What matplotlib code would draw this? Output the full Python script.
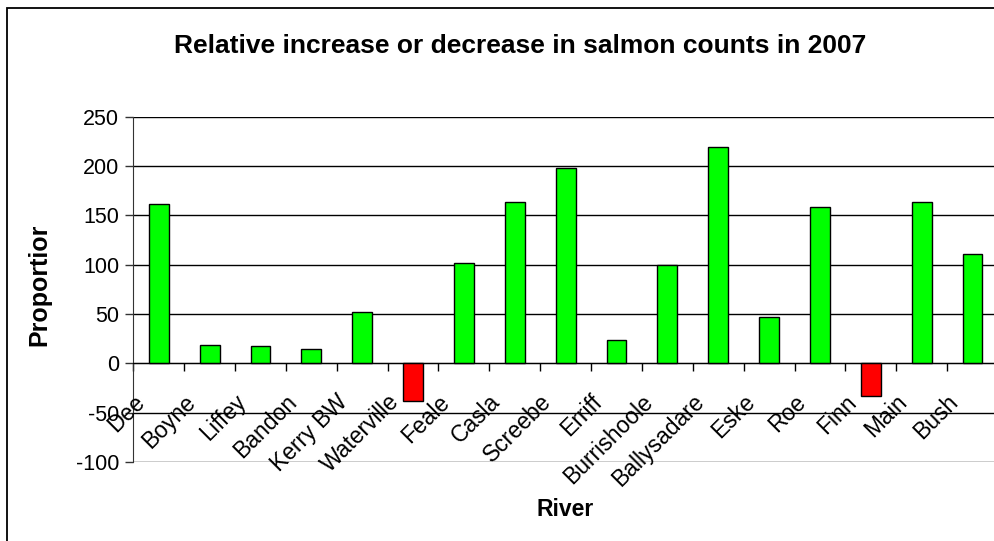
import matplotlib
matplotlib.use("Agg")
import matplotlib.pyplot as plt
import matplotlib.transforms as mtransforms
from matplotlib.patches import Rectangle
import numpy as np

plt.rcParams['font.family'] = ['Liberation Sans', 'DejaVu Sans']

rivers = ["Dee", "Boyne", "Liffey", "Bandon", "Kerry BW", "Waterville", "Feale",
          "Casla", "Screebe", "Erriff", "Burrishoole", "Ballysadare", "Eske",
          "Roe", "Finn", "Main", "Bush"]
values = [162, 19, 18, 14.5, 52, -38, 101.5, 163.5, 198.5, 24, 99.5, 219,
          47, 158.5, -33, 163.5, 111]
yticks = [-100, -50, 0, 50, 100, 150, 200, 250]

title = "Relative increase or decrease in salmon counts in 2007"
ylabel = "Proportior"
xlabel = "River"

W, H = 995, 541
fig = plt.figure(figsize=(W / 100, H / 100), dpi=100)

# outer chart frame (cut off at right / bottom like the reference)
fig.patches.append(Rectangle((7.5 / W, -0.05), 1.2, 1 - 8 / H + 0.05,
                             transform=fig.transFigure, fill=False,
                             edgecolor='black', linewidth=1.3))

left, right = 133.3, 998.0
top, bottom = 116.7, 462.0
ax = fig.add_axes([left / W, 1 - bottom / H, (right - left) / W, (bottom - top) / H])

n = len(rivers)
x = np.arange(n)
colors = ['#00FF00' if v >= 0 else '#FF0000' for v in values]
ax.bar(x, values, width=0.39, color=colors, edgecolor='black', linewidth=1.0, zorder=3)

ax.set_xlim(-0.5, n - 0.5)
ax.set_ylim(-100, 250)
ax.set_yticks(yticks)
ax.set_yticklabels([str(t) for t in yticks], fontsize=15.5)
ax.yaxis.grid(True, color='black', linewidth=1.0, zorder=0)
ax.set_axisbelow(True)

for s in ['top', 'right']:
    ax.spines[s].set_visible(False)
ax.spines['left'].set_color('#333333')
ax.spines['bottom'].set_position(('data', 0))
ax.spines['bottom'].set_color('black')
ax.spines['bottom'].set_zorder(4)

# ticks between categories
ax.set_xticks(np.arange(n + 1) - 0.5)
ax.set_xticklabels([])
ax.tick_params(axis='x', which='major', direction='out', length=6, width=1, color='black')
ax.tick_params(axis='y', which='major', direction='out', length=5.8, width=1,
               color='#333333', pad=4.3)

# rotated category labels, anchored at their top-right corner
offset = mtransforms.ScaledTranslation(-0.26, -0.27, fig.dpi_scale_trans)
for xi, name in zip(x, rivers):
    ax.text(xi, 0, name, transform=ax.transData + offset, fontsize=16.5,
            rotation=45, ha='right', va='top', rotation_mode='anchor', clip_on=False)

fig.text(520 / W, 1 - 46 / H, title, ha='center', va='center',
         fontsize=19, fontweight='bold')
fig.text(39 / W, 1 - 285 / H, ylabel, ha='center', va='center', rotation=90,
         fontsize=18, fontweight='bold')
fig.text(565 / W, 1 - 510 / H, xlabel, ha='center', va='center',
         fontsize=16.5, fontweight='bold')

fig.savefig("out.png", dpi=100)
